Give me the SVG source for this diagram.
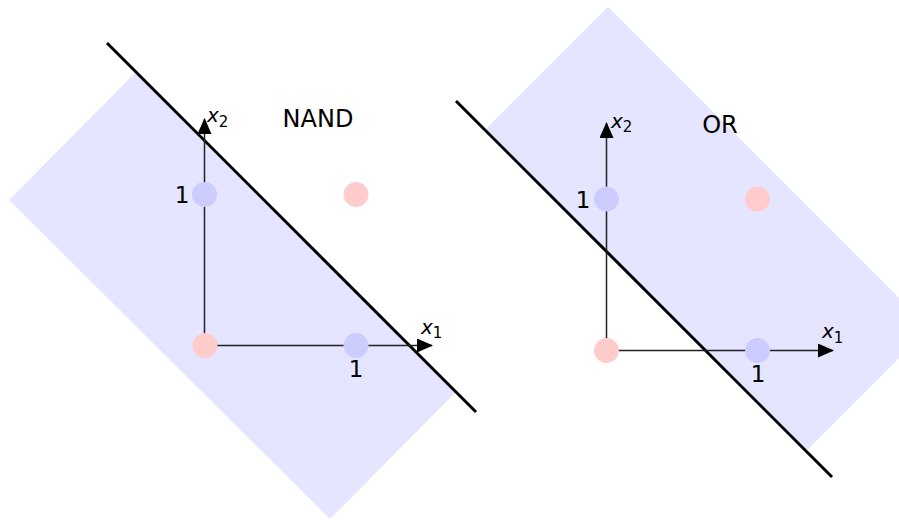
<svg xmlns="http://www.w3.org/2000/svg" width="899" height="520" viewBox="0 0 899 520">
<defs>
<style>
.shade{fill:#e5e5ff;stroke:none}
.sep{stroke:#000;stroke-width:3;fill:none}
.axis{stroke:#222;stroke-width:1.5;fill:none;marker-end:url(#arr)}
.pb{fill:#ccccff}
.pr{fill:#ffcccc}
.num{font-family:"DejaVu Sans","Liberation Sans",sans-serif;font-size:23px;fill:#000}
.title{font-family:"DejaVu Sans","Liberation Sans",sans-serif;font-size:24px;fill:#000}
.var{font-family:"DejaVu Sans","Liberation Sans",sans-serif;font-style:italic;font-size:20px;fill:#000}
.sub{font-style:normal;font-size:15px}
</style>
<marker id="arr" viewBox="0 0 16 14" refX="15" refY="7" markerWidth="16" markerHeight="14" markerUnits="userSpaceOnUse" orient="auto">
<path d="M0,0 L16,7 L0,14 Z" fill="#000"/>
</marker>
</defs>

<g id="nand">
<polygon class="shade" points="9,200 136,72 456,392 330,519"/>
<line class="sep" x1="107" y1="43" x2="476" y2="412"/>
<g id="nand-axes">
<line class="axis" x1="204.5" y1="345.5" x2="432" y2="345.5"/>
<line class="axis" x1="204.5" y1="345.5" x2="204.5" y2="119"/>
</g>
<circle class="pr" cx="205" cy="345.5" r="12.5"/>
<circle class="pb" cx="204.5" cy="194.5" r="12.5"/>
<circle class="pb" cx="356" cy="345.5" r="12.5"/>
<circle class="pr" cx="356" cy="194.5" r="12.5"/>
<text class="num" x="182" y="203" text-anchor="middle">1</text>
<text class="num" x="356" y="377" text-anchor="middle">1</text>
<text class="var" x="207" y="122">x<tspan class="sub" dy="5">2</tspan></text>
<text class="var" x="421" y="334">x<tspan class="sub" dy="4">1</tspan></text>
<text class="title" x="318" y="127" text-anchor="middle">NAND</text>
</g>

<g id="or">
<polygon class="shade" points="608,7 929,328 806,451 485,130"/>
<line class="sep" x1="456" y1="101" x2="832" y2="477"/>
<g id="or-axes">
<line class="axis" x1="606.5" y1="350.5" x2="833" y2="350.5"/>
<line class="axis" x1="606.5" y1="350.5" x2="606.5" y2="123"/>
</g>
<circle class="pr" cx="606.5" cy="350.5" r="12.5"/>
<circle class="pb" cx="606.5" cy="199" r="12.5"/>
<circle class="pb" cx="757.5" cy="350.5" r="12.5"/>
<circle class="pr" cx="757.5" cy="199" r="12.5"/>
<text class="num" x="583" y="208" text-anchor="middle">1</text>
<text class="num" x="758" y="382" text-anchor="middle">1</text>
<text class="var" x="611" y="128">x<tspan class="sub" dy="4">2</tspan></text>
<text class="var" x="822" y="338">x<tspan class="sub" dy="5">1</tspan></text>
<text class="title" x="720" y="133" text-anchor="middle">OR</text>
</g>
</svg>
